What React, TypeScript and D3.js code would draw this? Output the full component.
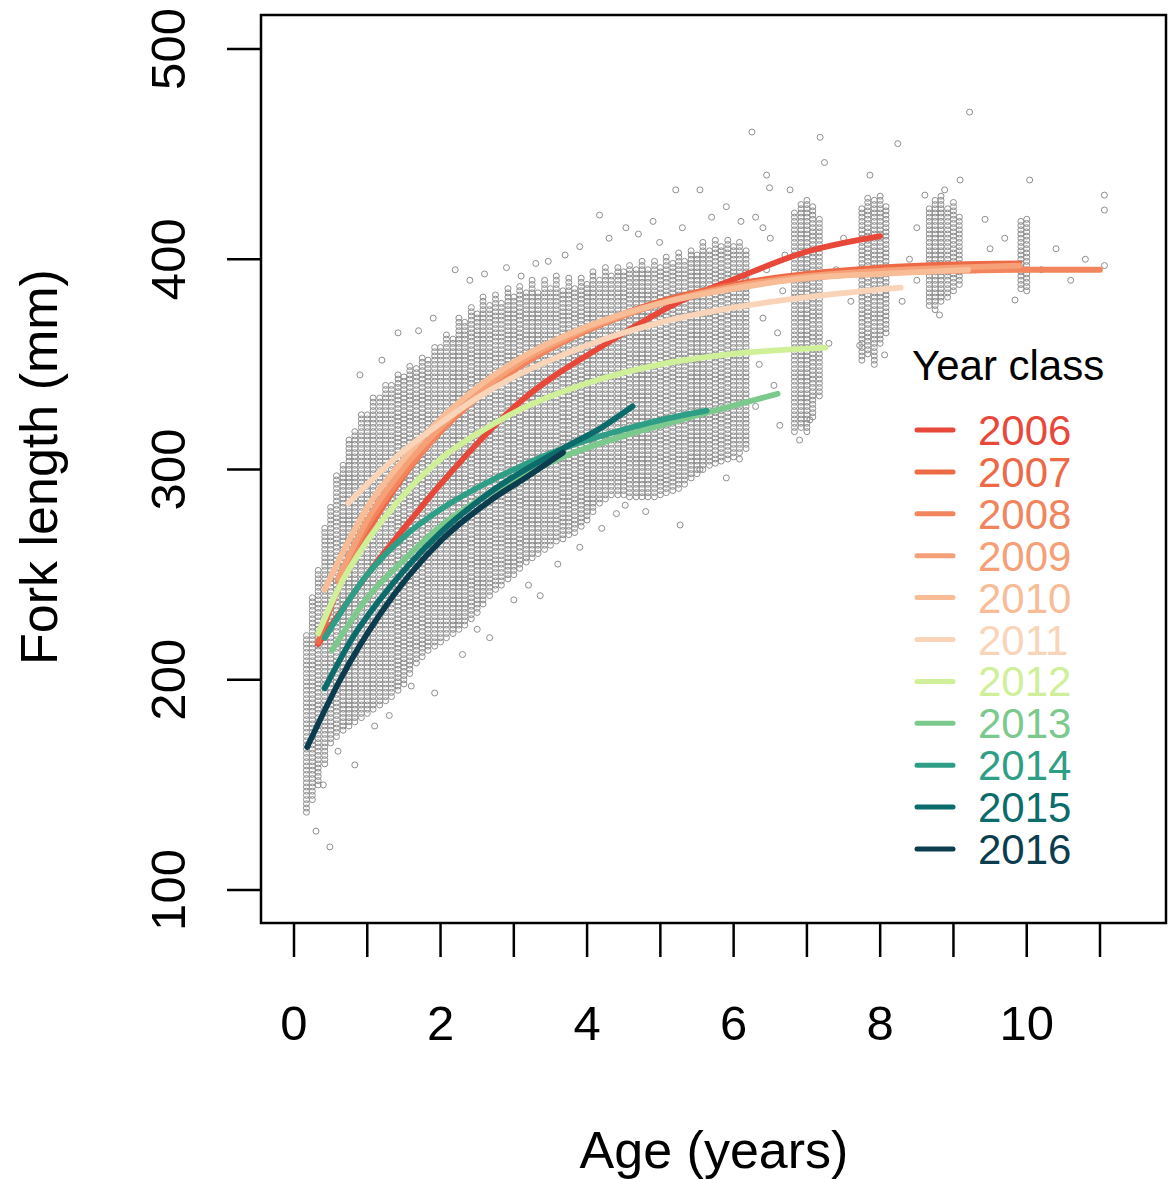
import React from "react";
import * as d3 from "d3";

// ---------- data ----------
const yearClasses = ["2006","2007","2008","2009","2010","2011","2012","2013","2014","2015","2016"];
const classColors = ["#E8483A","#EE6A47","#F2855D","#F5A077","#F8BC96","#FAD4B8","#CFF099","#7CC98D","#2F9E86","#0C6C6C","#0B3D4E"];

// fitted growth curves: [age, fork length]
const curve2006 = [[0.33,217],[1,250],[1.5,272],[2,293],[3.08,332],[4.27,360],[5.27,380],[6.04,391],[6.94,403],[8,411]];
const curve2007 = [[0.33,218],[0.6,243],[1,270],[1.5,297],[2,318],[2.5,335],[3,349],[4,367],[5,380],[6,388],[7,393],[8,396],[9,397.5],[9.9,398]];
const curve2008 = [[0.6,247],[1,273],[1.5,298],[2,318],[2.5,334],[3,347],[4,366],[5,379],[6,387],[7,391],[8,393.5],[9,394.5],[10,395],[11,395]];
const curve2009 = [[0.6,248],[1,276],[1.5,301],[2,320],[2.5,336],[3,349],[4,367],[5,379],[6,387],[7,392],[8,394.5],[9,396],[9.9,397]];
const curve2010 = [[0.42,243],[1,282],[1.5,305],[2,324],[2.5,339],[3,351],[4,368],[5,379],[6,386],[7,391],[8,393],[9.2,395]];
const curve2011 = [[0.74,284],[1,293],[1.5,309],[2,322],[2.5,334],[3,344],[3.5,352],[4,359],[4.5,365],[5,370],[6,377],[7,382],[8.28,386.5]];
const curve2012 = [[0.33,222],[0.6,243],[1,266],[1.5,288],[2,305],[2.5,317],[3,327],[4,341],[5,350],[6,355],[7.25,358]];
const curve2013 = [[0.52,214],[1,239],[1.5,257],[2,273],[2.5,285],[3,295],[3.67,306],[4.5,316],[5,321],[5.63,327],[6.6,336]];
const curve2014 = [[0.42,220],[1,250],[1.5,268],[2,281],[2.54,292],[3,300],[3.67,310],[4.5,319],[5,323.5],[5.63,328]];
const curve2015 = [[0.42,196],[0.8,220],[1.17,238],[2,270],[2.67,289],[3.67,310],[4.2,320],[4.62,330]];
const curve2016 = [[0.18,168],[0.63,200],[1.17,231],[2,266],[2.67,285],[3.2,297],[3.67,308]];
const curves = [curve2006,curve2007,curve2008,curve2009,curve2010,curve2011,curve2012,curve2013,curve2014,curve2015,curve2016];

// observed fish: columns of sampled ages with min / max fork length
const colAge = [0.17,0.25,0.33,0.42,0.50,0.58,0.67,0.75,0.83,0.92,1.00,1.08,1.17,1.25,1.33,1.42,1.50,1.58,1.67,1.75,1.83,1.92,2.00,2.08,2.17,2.25,2.33,2.42,2.50,2.58,2.67,2.75,2.83,2.92,3.00,3.08,3.17,3.25,3.33,3.42,3.50,3.58,3.67,3.75,3.83,3.92,4.00,4.08,4.17,4.25,4.33,4.42,4.50,4.58,4.67,4.75,4.83,4.92,5.00,5.08,5.17,5.25,5.33,5.42,5.50,5.58,5.67,5.75,5.83,5.92,6.00,6.08,6.17,
  6.83,6.92,7.00,7.08,7.17, 7.75,7.83,7.92,8.00,8.08, 8.67,8.75,8.83,8.92,9.00,9.08, 9.92,10.00];
const colLo = [137,143,150,160,170,173,176,178,180,182,184,186,188,190,192,195,198,203,208,211,214,216,218,220,222,224,226,229,232,236,240,243,245,248,250,253,256,258,260,262,264,266,267,269,270,273,276,280,284,286,288,288,288,287,287,287,287,287,288,289,290,291,293,296,298,300,302,303,304,305,306,308,310,
  318,320,318,325,335, 352,355,350,360,365, 378,376,380,382,385,388, 386,385];
const colHi = [222,240,252,272,283,297,303,315,318,326,326,334,334,340,340,346,344,350,348,354,352,358,358,364,362,372,370,378,374,382,378,384,380,386,382,388,384,390,385,390,386,392,386,392,387,392,388,394,390,396,392,397,394,398,395,399,396,400,397,401,399,403,400,405,402,408,404,409,406,410,407,408,405,
  422,426,428,425,420, 425,430,428,430,425, 425,428,430,425,428,420, 418,420];

// scattered individual fish outside the dense columns: [age, fork length]
const outliers = [[0.49,120.5],[0.83,159.5],[1.92,193.7],[2.67,220],[3.36,240],[4.52,283],[5.27,273.6],[5.54,300],[6.08,305],[6.63,321],[6.9,314],[7.04,323.6],[7.72,359],[8.06,354.5],[8.81,373.5],[9.84,380.6],
  [0.3,128],[0.4,150],[0.6,166],[1.1,178],[1.3,183],[1.6,197],[2.3,212],[2.5,224],[3.0,238],[3.2,245],[3.6,255],[3.9,263],[4.2,272],[4.4,279],[4.8,280],[5.9,296],
  [1.42,365],[2.2,395],[3.47,399],[4.17,421],[4.53,415],[4.99,408],[5.21,433],[5.54,433],[6.25,460.5],[6.45,440],[6.49,434],[6.77,433],[7.18,458],[7.24,446],[7.86,440],[8.24,455],[8.61,430.5],[8.88,433],[9.09,437.7],[9.22,470],[9.43,419],[10.04,437.7],[11.06,430.5],[11.06,423.4],
  [0.9,345],[1.2,352],[1.7,366],[1.9,372],[2.4,390],[2.6,393],[2.9,396],[3.1,392],[3.3,398],[3.7,402],[3.9,406],[4.3,410],[4.7,412],[4.9,418],[5.3,415],[5.7,420],[5.9,425],[6.1,418],
  [6.3,330],[6.35,350],[6.4,372],[6.45,395],[6.5,410],[6.55,340],[6.6,365],[6.67,385],[6.7,402],[6.3,420],[6.4,415],[7.3,360],[7.4,395],[7.5,410],[7.6,380],[8.3,380],[8.4,400],[8.5,415],[8.5,390],[9.3,395],[9.5,405],[9.7,410],[10.2,395],[10.4,405],[10.6,390],[10.8,400],[11.06,397]];

const xTicks = [0,1,2,3,4,5,6,7,8,9,10,11];
const xTickLabels = [0,2,4,6,8,10];
const yTicks = [100,200,300,400,500];

export default function App() {
  const W = 1168, H = 1179;
  const x = d3.scaleLinear().domain([0, 11]).range([294, 1100]);
  const y = d3.scaleLinear().domain([100, 500]).range([890, 49]);
  const box = { l: 261, t: 15, r: 1166, b: 923 };
  const line = d3.line<number[]>().x(d => x(d[0])).y(d => y(d[1])).curve(d3.curveMonotoneX);

  const pts: number[][] = [];
  colAge.forEach((a, i) => {
    for (let v = colLo[i]; v <= colHi[i]; v += 2) pts.push([a, v]);
  });
  outliers.forEach(p => pts.push(p));

  const font = "'Liberation Sans', Arial, sans-serif";
  return (
    <svg width={W} height={H} style={{ position: "absolute", left: 0, top: 0, display: "block", background: "#fff" }} fontFamily={font}>
      <g>
        {pts.map((p, i) => (
          <circle key={i} cx={x(p[0])} cy={y(p[1])} r={3} fill="none" stroke="#8e8e8e" strokeWidth={1} />
        ))}
      </g>
      <g>
        {curves.map((c, i) => (
          <path key={i} d={line(c) || ""} fill="none" stroke={classColors[i]} strokeWidth={5.8} strokeLinecap="round" />
        ))}
      </g>
      <rect x={box.l} y={box.t} width={box.r - box.l} height={box.b - box.t} fill="none" stroke="#000" strokeWidth={2.5} />
      {xTicks.map(t => (
        <line key={t} x1={x(t)} x2={x(t)} y1={box.b} y2={box.b + 34} stroke="#000" strokeWidth={2.5} />
      ))}
      {xTickLabels.map(t => (
        <text key={t} x={x(t)} y={1040} fontSize={49} textAnchor="middle">{t}</text>
      ))}
      {yTicks.map(t => (
        <g key={t}>
          <line x1={box.l - 34} x2={box.l} y1={y(t)} y2={y(t)} stroke="#000" strokeWidth={2.5} />
          <text transform={`translate(185,${y(t)}) rotate(-90)`} fontSize={49} textAnchor="middle">{t}</text>
        </g>
      ))}
      <text transform={`translate(57,467) rotate(-90)`} fontSize={52} textAnchor="middle">Fork length (mm)</text>
      <text x={714} y={1168} fontSize={52} textAnchor="middle">Age (years)</text>
      <text x={912} y={380} fontSize={42}>Year class</text>
      {yearClasses.map((yc, i) => (
        <g key={yc}>
          <line x1={917} x2={953} y1={430 + 41.9 * i} y2={430 + 41.9 * i} stroke={classColors[i]} strokeWidth={5} strokeLinecap="round" />
          <text x={978} y={430 + 41.9 * i + 15} fontSize={42} fill={classColors[i]}>{yc}</text>
        </g>
      ))}
    </svg>
  );
}
